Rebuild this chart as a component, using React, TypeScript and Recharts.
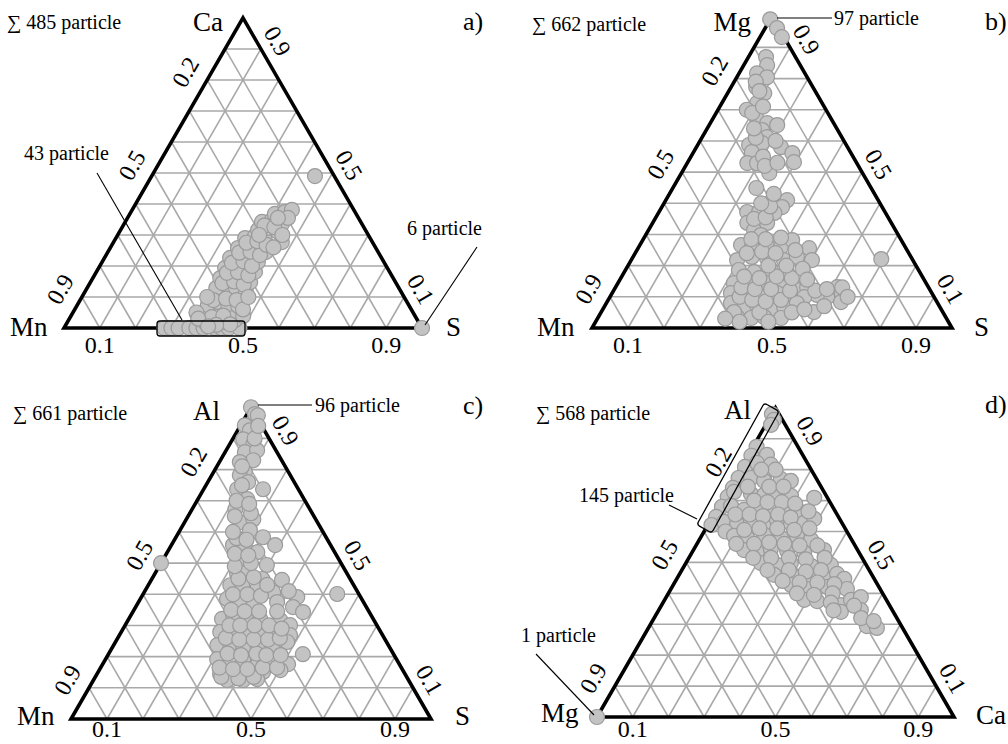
import React from "react";
import { ScatterChart, Scatter, XAxis, YAxis } from "recharts";

const FONT = '"Liberation Serif", "Times New Roman", serif';
const H3 = Math.sqrt(3) / 2;
const QW = 504;
const QH = 372;

// grid and tick values (fractions)
const gridSteps = [0.1, 0.2, 0.3, 0.4, 0.5, 0.6, 0.7, 0.8, 0.9];
const bottomTicks = [0.1, 0.5, 0.9];
const leftTicks = [0.9, 0.5, 0.2];
const rightTicks = [0.9, 0.5, 0.1];

// a) Mn–S–Ca, each point is [S, Ca]
const pointsA: [number, number][] = [
  [0.28, 0], [0.3, 0], [0.32, 0], [0.35, 0], [0.37, 0], [0.39, 0], [0.42, 0], [0.44, 0], [0.46, 0], [0.49, 0],
  [0.384, 0.019], [0.409, 0.026], [0.44, 0.019], [0.465, 0.026],
  [0.382, 0.052], [0.412, 0.058], [0.445, 0.048], [0.481, 0.039],
  [0.365, 0.074], [0.388, 0.084], [0.42, 0.077], [0.451, 0.071],
  [0.365, 0.103], [0.388, 0.113], [0.421, 0.103], [0.455, 0.09],
  [0.361, 0.129], [0.384, 0.139], [0.416, 0.129], [0.45, 0.116],
  [0.356, 0.161], [0.38, 0.168], [0.413, 0.158], [0.446, 0.148],
  [0.353, 0.194], [0.378, 0.2], [0.412, 0.187], [0.443, 0.181],
  [0.351, 0.226], [0.376, 0.232], [0.41, 0.219], [0.435, 0.213],
  [0.357, 0.258], [0.381, 0.265], [0.416, 0.252], [0.441, 0.245],
  [0.361, 0.29], [0.385, 0.297], [0.419, 0.284],
  [0.384, 0.316], [0.408, 0.323], [0.443, 0.31],
  [0.382, 0.342], [0.407, 0.348], [0.441, 0.335],
  [0.405, 0.368], [0.43, 0.374], [0.446, 0.381], [0.448, 0.355], [0.47, 0.277],
  [0.395, 0.035], [0.425, 0.04], [0.458, 0.012], [0.372, 0.09], [0.405, 0.095], [0.437, 0.09], [0.47, 0.06],
  [0.37, 0.145], [0.4, 0.15], [0.432, 0.14], [0.465, 0.1], [0.366, 0.178], [0.396, 0.18], [0.43, 0.17],
  [0.364, 0.21], [0.394, 0.215], [0.425, 0.2], [0.368, 0.243], [0.398, 0.246], [0.43, 0.235], [0.372, 0.275],
  [0.4, 0.28], [0.432, 0.268], [0.395, 0.33], [0.425, 0.325], [0.42, 0.355], [0.395, 0.3], [0.455, 0.26],
  [0.46, 0.3], [0.345, 0.05], [0.35, 0.1], [0.36, 0.03], [0.42, 0.01], [0.4, 0.005],
  [0.456, 0.49], [1.0, 0],
];

// b) Mn–S–Mg, each point is [S, Mg]
const pointsB: [number, number][] = [
  [0.0, 0.99], [0.033, 0.962], [0.061, 0.933], [0.049, 0.869], [0.065, 0.843], [0.05, 0.817], [0.084, 0.804],
  [0.07, 0.772], [0.102, 0.753], [0.098, 0.721], [0.118, 0.676], [0.158, 0.657], [0.189, 0.651], [0.155, 0.635],
  [0.18, 0.612], [0.143, 0.587], [0.176, 0.593], [0.235, 0.58], [0.276, 0.561], [0.295, 0.532], [0.162, 0.564],
  [0.167, 0.529], [0.194, 0.529], [0.244, 0.497], [0.232, 0.449], [0.295, 0.404], [0.337, 0.41], [0.334, 0.388],
  [0.245, 0.372], [0.278, 0.372], [0.322, 0.369], [0.263, 0.337], [0.293, 0.314], [0.318, 0.337], [0.32, 0.298],
  [0.281, 0.266], [0.314, 0.26], [0.353, 0.266], [0.395, 0.26], [0.415, 0.282], [0.475, 0.256], [0.294, 0.218],
  [0.33, 0.228], [0.374, 0.224], [0.424, 0.218], [0.455, 0.228], [0.502, 0.218], [0.693, 0.221], [0.315, 0.186],
  [0.361, 0.179], [0.404, 0.186], [0.454, 0.176], [0.322, 0.144], [0.37, 0.144], [0.414, 0.144], [0.46, 0.131],
  [0.508, 0.122], [0.532, 0.131], [0.616, 0.131], [0.638, 0.112], [0.604, 0.099], [0.572, 0.106], [0.33, 0.112],
  [0.378, 0.106], [0.42, 0.099], [0.458, 0.112], [0.508, 0.09], [0.54, 0.099], [0.346, 0.08], [0.389, 0.067],
  [0.421, 0.074], [0.468, 0.058], [0.5, 0.067], [0.529, 0.08], [0.591, 0.051], [0.386, 0.035], [0.426, 0.032],
  [0.461, 0.035], [0.509, 0.032], [0.369, 0.051], [0.65, 0.083],
  [0.4, 0.02], [0.44, 0.05], [0.48, 0.02], [0.53, 0.05], [0.56, 0.06], [0.61, 0.07], [0.355, 0.03],
  [0.36, 0.1], [0.4, 0.09], [0.44, 0.085], [0.48, 0.09], [0.49, 0.12], [0.56, 0.12], [0.59, 0.125], [0.63, 0.13],
  [0.66, 0.1], [0.35, 0.13], [0.39, 0.125], [0.435, 0.125], [0.34, 0.165], [0.385, 0.16], [0.43, 0.165],
  [0.475, 0.16], [0.49, 0.19], [0.44, 0.2], [0.39, 0.2], [0.52, 0.155], [0.31, 0.24], [0.35, 0.245], [0.39, 0.24],
  [0.44, 0.25], [0.3, 0.285], [0.34, 0.285], [0.38, 0.29], [0.275, 0.35], [0.305, 0.355], [0.3, 0.39],
  [0.27, 0.4], [0.29, 0.43], [0.2, 0.55], [0.22, 0.52], [0.25, 0.53], [0.15, 0.61], [0.21, 0.6], [0.13, 0.64],
  [0.08, 0.7], [0.1, 0.69], [0.06, 0.79], [0.12, 0.71], [0.085, 0.76],
];

// c) Mn–S–Al, each point is [S, Al]
const pointsC: [number, number][] = [
  [0.0, 1.0], [0.022, 0.978], [0.032, 0.974], [0.012, 0.942], [0.034, 0.926], [0.03, 0.897], [0.066, 0.881],
  [0.055, 0.856], [0.086, 0.862], [0.091, 0.83], [0.057, 0.824], [0.087, 0.792], [0.078, 0.782], [0.112, 0.76],
  [0.093, 0.737], [0.165, 0.737], [0.137, 0.705], [0.12, 0.673], [0.154, 0.631], [0.186, 0.641], [0.194, 0.606],
  [0.242, 0.583], [0.288, 0.558], [0.171, 0.558], [0.208, 0.551], [0.25, 0.535], [0.213, 0.513], [0.297, 0.494],
  [0.0, 0.5], [0.229, 0.465], [0.254, 0.471], [0.307, 0.449], [0.363, 0.446], [0.228, 0.429], [0.261, 0.429],
  [0.309, 0.417], [0.358, 0.407], [0.539, 0.401], [0.433, 0.391], [0.241, 0.385], [0.282, 0.375], [0.324, 0.365],
  [0.385, 0.375], [0.437, 0.359], [0.473, 0.343], [0.259, 0.321], [0.284, 0.333], [0.326, 0.327], [0.365, 0.321],
  [0.423, 0.317], [0.458, 0.301], [0.275, 0.279], [0.306, 0.288], [0.347, 0.285], [0.394, 0.279], [0.417, 0.288],
  [0.474, 0.269], [0.288, 0.237], [0.322, 0.24], [0.363, 0.231], [0.399, 0.237], [0.451, 0.221], [0.477, 0.247],
  [0.54, 0.208], [0.31, 0.192], [0.351, 0.183], [0.382, 0.192], [0.431, 0.173], [0.464, 0.189], [0.515, 0.176],
  [0.342, 0.144], [0.389, 0.144], [0.427, 0.141], [0.458, 0.151], [0.503, 0.157], [0.371, 0.125], [0.416, 0.125],
  [0.453, 0.128],
  [0.35, 0.135], [0.4, 0.13], [0.44, 0.135], [0.33, 0.165], [0.37, 0.16], [0.41, 0.16], [0.45, 0.165],
  [0.49, 0.165], [0.33, 0.21], [0.37, 0.205], [0.41, 0.21], [0.44, 0.205], [0.48, 0.205], [0.3, 0.26],
  [0.34, 0.255], [0.38, 0.255], [0.42, 0.255], [0.45, 0.26], [0.29, 0.3], [0.32, 0.3], [0.36, 0.3], [0.4, 0.3],
  [0.44, 0.29], [0.27, 0.35], [0.31, 0.345], [0.35, 0.345], [0.4, 0.345], [0.25, 0.4], [0.29, 0.4], [0.33, 0.395],
  [0.4, 0.41], [0.24, 0.45], [0.28, 0.455], [0.33, 0.43], [0.21, 0.49], [0.25, 0.5], [0.19, 0.53], [0.23, 0.525],
  [0.17, 0.58], [0.2, 0.575], [0.15, 0.6], [0.13, 0.65], [0.17, 0.66], [0.11, 0.7], [0.15, 0.69], [0.1, 0.75],
  [0.07, 0.81], [0.06, 0.9], [0.05, 0.94],
];

// d) Mg–Ca–Al, each point is [Ca, Al]
const pointsD: [number, number][] = [
  [0.0, 0.0],
  [0.0, 0.98], [0.015, 0.961], [0.015, 0.945],
  [0.01, 0.874], [0.01, 0.845], [0.01, 0.809], [0.01, 0.773], [0.01, 0.741], [0.01, 0.712], [0.01, 0.68],
  [0.01, 0.647], [0.01, 0.621],
  [0.052, 0.848], [0.037, 0.822], [0.079, 0.816], [0.045, 0.773], [0.086, 0.764], [0.13, 0.77], [0.161, 0.764],
  [0.02, 0.728], [0.07, 0.722], [0.109, 0.718], [0.143, 0.722], [0.186, 0.715], [0.254, 0.709], [0.034, 0.683],
  [0.077, 0.67], [0.121, 0.676], [0.161, 0.67], [0.194, 0.676], [0.24, 0.663], [0.041, 0.631], [0.08, 0.625],
  [0.114, 0.634], [0.156, 0.625], [0.185, 0.638], [0.231, 0.625], [0.266, 0.628], [0.288, 0.641], [0.06, 0.6],
  [0.091, 0.586], [0.131, 0.579], [0.174, 0.589], [0.226, 0.579], [0.267, 0.586], [0.313, 0.573], [0.142, 0.54],
  [0.181, 0.534], [0.215, 0.544], [0.264, 0.537], [0.315, 0.531], [0.366, 0.54], [0.21, 0.498], [0.258, 0.492],
  [0.294, 0.498], [0.355, 0.489], [0.409, 0.492], [0.266, 0.46], [0.326, 0.453], [0.371, 0.456], [0.411, 0.45],
  [0.441, 0.463], [0.469, 0.447], [0.33, 0.427], [0.381, 0.414], [0.434, 0.421], [0.493, 0.414], [0.391, 0.379],
  [0.429, 0.375], [0.502, 0.362], [0.522, 0.379], [0.545, 0.388], [0.513, 0.34], [0.566, 0.346], [0.609, 0.294],
  [0.64, 0.288],
  [0.1, 0.8], [0.06, 0.8], [0.11, 0.745], [0.15, 0.745], [0.05, 0.745], [0.09, 0.7], [0.13, 0.695], [0.17, 0.695],
  [0.21, 0.69], [0.06, 0.655], [0.1, 0.655], [0.14, 0.65], [0.18, 0.655], [0.22, 0.645], [0.26, 0.665],
  [0.11, 0.605], [0.15, 0.61], [0.2, 0.61], [0.25, 0.605], [0.29, 0.61], [0.11, 0.56], [0.16, 0.56], [0.2, 0.565],
  [0.245, 0.56], [0.29, 0.555], [0.34, 0.555], [0.18, 0.515], [0.23, 0.515], [0.28, 0.515], [0.33, 0.51],
  [0.38, 0.515], [0.24, 0.475], [0.3, 0.475], [0.35, 0.47], [0.39, 0.475], [0.3, 0.44], [0.35, 0.435], [0.4, 0.435],
  [0.45, 0.43], [0.36, 0.4], [0.41, 0.395], [0.46, 0.4], [0.47, 0.37], [0.54, 0.36], [0.49, 0.345], [0.58, 0.32],
  [0.62, 0.31],
];

type Txt = { x: number; y: number; text: string; size: number; anchor?: "start" | "end" | "middle" };
type Box = { cx: number; cy: number; w: number; h: number; angle: number };
type Panel = {
  qx: number;
  qy: number;
  ox: number;
  oy: number;
  side: number;
  points: [number, number][];
  texts: Txt[];
  lines: number[][];
  boxes: Box[];
};

const panels: Panel[] = [
  {
    qx: 0, qy: 0, ox: 64, oy: 328, side: 358, points: pointsA,
    texts: [
      { x: 7, y: 29, text: "∑ 485 particle", size: 20 },
      { x: 223, y: 31, text: "Ca", size: 27, anchor: "end" },
      { x: 463, y: 30, text: "a)", size: 26 },
      { x: 10, y: 336, text: "Mn", size: 27 },
      { x: 446, y: 336, text: "S", size: 27 },
      { x: 24, y: 160, text: "43 particle", size: 20 },
      { x: 407, y: 235, text: "6 particle", size: 20 },
    ],
    lines: [[97, 173, 182, 320], [477, 247, 425, 325]],
    boxes: [{ cx: 201, cy: 328.5, w: 88, h: 15, angle: 0 }],
  },
  {
    qx: 504, qy: 0, ox: 592, oy: 328, side: 360, points: pointsB,
    texts: [
      { x: 532, y: 31, text: "∑ 662 particle", size: 20 },
      { x: 751, y: 31, text: "Mg", size: 27, anchor: "end" },
      { x: 834, y: 25, text: "97 particle", size: 20 },
      { x: 985, y: 30, text: "b)", size: 26 },
      { x: 537, y: 336, text: "Mn", size: 27 },
      { x: 974, y: 336, text: "S", size: 27 },
    ],
    lines: [[777, 18, 832, 18]],
    boxes: [],
  },
  {
    qx: 0, qy: 372, ox: 71, oy: 719, side: 360, points: pointsC,
    texts: [
      { x: 13, y: 420, text: "∑ 661 particle", size: 20 },
      { x: 220, y: 420, text: "Al", size: 27, anchor: "end" },
      { x: 315, y: 412, text: "96 particle", size: 20 },
      { x: 463, y: 414, text: "c)", size: 26 },
      { x: 17, y: 725, text: "Mn", size: 27 },
      { x: 455, y: 725, text: "S", size: 27 },
    ],
    lines: [[258, 405, 312, 405]],
    boxes: [],
  },
  {
    qx: 504, qy: 372, ox: 597, oy: 717, side: 357, points: pointsD,
    texts: [
      { x: 536, y: 420, text: "∑ 568 particle", size: 20 },
      { x: 751, y: 419, text: "Al", size: 27, anchor: "end" },
      { x: 985, y: 413, text: "d)", size: 26 },
      { x: 579, y: 502, text: "145 particle", size: 20 },
      { x: 521, y: 642, text: "1 particle", size: 20 },
      { x: 541, y: 722, text: "Mg", size: 27 },
      { x: 976, y: 724, text: "Ca", size: 27 },
    ],
    lines: [[669, 505, 697, 519], [536, 654, 594, 715]],
    boxes: [{ cx: 738, cy: 468, w: 139, h: 17, angle: -61 }],
  },
];

const pt = (r: number, t: number) => ({ x: r + t / 2, y: t * H3 });

const toPx = (p: Panel, r: number, t: number) => [
  p.ox + (r + t / 2) * p.side,
  p.oy - t * H3 * p.side,
];

const Marker = (props: any) => (
  <circle cx={props.cx} cy={props.cy} r={7.5} fill="#c3c3c3" stroke="#9b9b9b" strokeWidth={1.2} />
);
const NoMarker = () => <g />;

function TernaryChart({ p }: { p: Panel }) {
  const x0 = (p.qx - p.ox) / p.side;
  const x1 = (p.qx + QW - p.ox) / p.side;
  const y1 = (p.oy - p.qy) / p.side;
  const y0 = (p.oy - p.qy - QH) / p.side;
  const data = p.points.map(([r, t]) => pt(r, t));
  const grid = gridSteps.flatMap((k) => [
    [pt(0, k), pt(1 - k, k)],
    [pt(k, 0), pt(k, 1 - k)],
    [pt(1 - k, 0), pt(0, 1 - k)],
  ]);
  const frame = [pt(0.5, 0), pt(1, 0), pt(0, 1), pt(0, 0), pt(0.5, 0)];

  return (
    <div style={{ position: "absolute", left: p.qx, top: p.qy }}>
      <ScatterChart width={QW} height={QH} margin={{ top: 0, right: 0, bottom: 0, left: 0 }}>
        <XAxis type="number" dataKey="x" domain={[x0, x1]} hide allowDataOverflow />
        <YAxis type="number" dataKey="y" domain={[y0, y1]} hide allowDataOverflow />
        {grid.map((seg, i) => (
          <Scatter
            key={`g${i}`}
            data={seg}
            line={{ stroke: "#a9a9a9", strokeWidth: 1.6 }}
            lineType="joint"
            shape={NoMarker}
            isAnimationActive={false}
          />
        ))}
        <Scatter
          data={frame}
          line={{ stroke: "#000", strokeWidth: 3.6, strokeLinejoin: "miter" }}
          lineType="joint"
          shape={NoMarker}
          isAnimationActive={false}
        />
        <Scatter data={data} shape={Marker} isAnimationActive={false} />
      </ScatterChart>
    </div>
  );
}

function Annotations() {
  const ts = { fontFamily: FONT };
  return (
    <svg
      width={1008}
      height={744}
      style={{ position: "absolute", left: 0, top: 0, pointerEvents: "none", fontFamily: FONT }}
    >
      {panels.map((p, pi) => (
        <g key={pi}>
          {p.boxes.map((b, i) => (
            <rect
              key={`b${i}`}
              x={-b.w / 2}
              y={-b.h / 2}
              width={b.w}
              height={b.h}
              rx={3}
              fill="none"
              stroke="#000"
              strokeWidth={1.3}
              transform={`translate(${b.cx} ${b.cy}) rotate(${b.angle})`}
            />
          ))}
          {p.lines.map((l, i) => (
            <line key={`l${i}`} x1={l[0]} y1={l[1]} x2={l[2]} y2={l[3]} stroke="#000" strokeWidth={1.1} />
          ))}
          {p.texts.map((t, i) => (
            <text key={`t${i}`} x={t.x} y={t.y} style={ts} fontSize={t.size} textAnchor={t.anchor || "start"} fill="#000">
              {t.text}
            </text>
          ))}
          {bottomTicks.map((v) => {
            const [X, Y] = toPx(p, v, 0);
            return (
              <text key={`bt${v}`} x={X} y={Math.min(Y + 25, 737)} style={ts} fontSize={24} textAnchor="middle" fill="#000">
                {v.toFixed(1)}
              </text>
            );
          })}
          {leftTicks.map((v) => {
            const [X, Y] = toPx(p, 0, 1 - v + 0.025);
            const x = X - 26;
            return (
              <text
                key={`lt${v}`}
                x={x}
                y={Y}
                style={ts}
                fontSize={24}
                textAnchor="middle"
                dominantBaseline="central"
                transform={`rotate(-60 ${x} ${Y})`}
                fill="#000"
              >
                {v.toFixed(1)}
              </text>
            );
          })}
          {rightTicks.map((v) => {
            const t = v + 0.025;
            const [X, Y] = toPx(p, 1 - t, t);
            const x = X + 21;
            return (
              <text
                key={`rt${v}`}
                x={x}
                y={Y}
                style={ts}
                fontSize={24}
                textAnchor="middle"
                dominantBaseline="central"
                transform={`rotate(60 ${x} ${Y})`}
                fill="#000"
              >
                {v.toFixed(1)}
              </text>
            );
          })}
        </g>
      ))}
    </svg>
  );
}

export default function App() {
  return (
    <div
      style={{
        position: "absolute",
        left: 0,
        top: 0,
        width: 1008,
        height: 744,
        background: "#fff",
        overflow: "hidden",
        fontFamily: FONT,
      }}
    >
      {panels.map((p, i) => (
        <TernaryChart key={i} p={p} />
      ))}
      <Annotations />
    </div>
  );
}
